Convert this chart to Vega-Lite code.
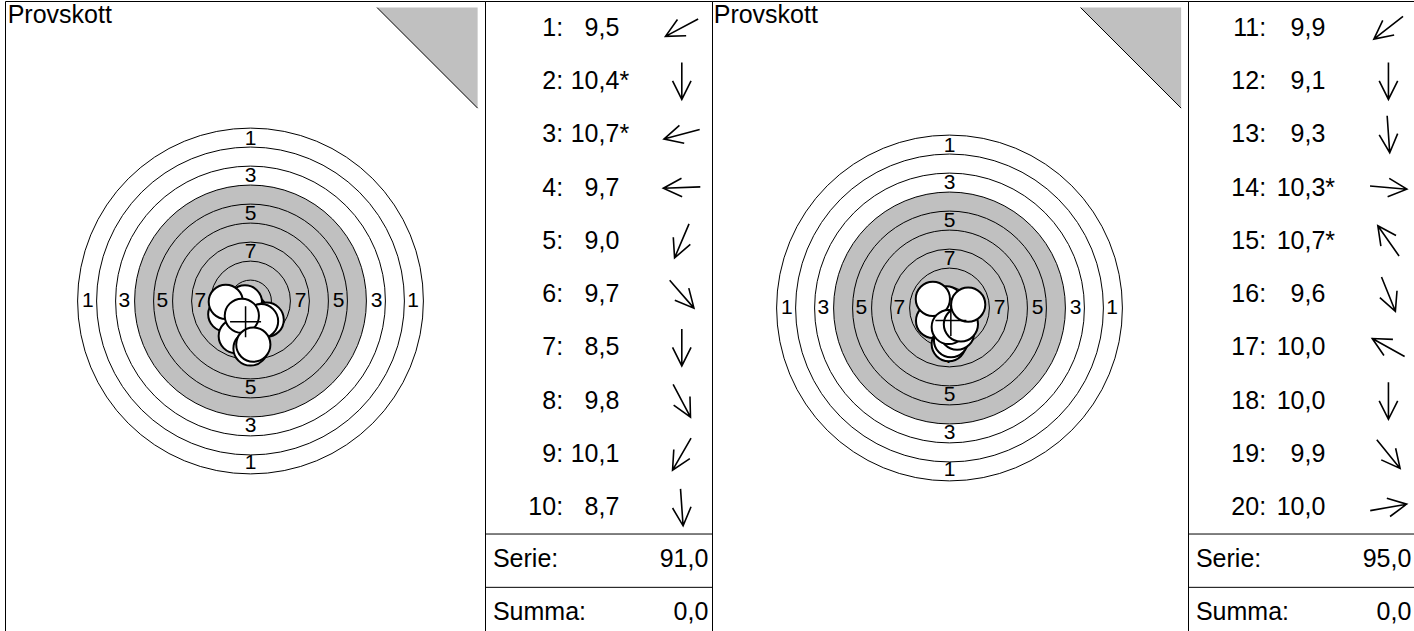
{
  "$schema": "https://vega.github.io/schema/vega-lite/v6.json",
  "padding": {"left": 4, "top": 0, "right": 0, "bottom": 0},
  "spacing": 0,
  "bounds": "flush",
  "background": "white",
  "config": {
    "view": {"stroke": "black", "strokeWidth": 1},
    "text": {"font": "Liberation Sans"},
    "concat": {"spacing": 0}
  },
  "datasets": {
    "rings": [
      {"ring": 1, "r": 22.75, "zone": "white"},
      {"ring": 2, "r": 20.25, "zone": "white"},
      {"ring": 3, "r": 17.75, "zone": "white"},
      {"ring": 4, "r": 15.25, "zone": "black"},
      {"ring": 5, "r": 12.75, "zone": "black"},
      {"ring": 6, "r": 10.25, "zone": "black"},
      {"ring": 7, "r": 7.75, "zone": "black"},
      {"ring": 8, "r": 5.25, "zone": "black"},
      {"ring": 9, "r": 2.75, "zone": "black"},
      {"ring": 10, "r": 0.25, "zone": "black"}
    ],
    "ringLabels": [
      {"label": "1", "x": -21.4, "y": 0}, {"label": "1", "x": 21.4, "y": 0}, {"label": "1", "x": 0, "y": 21.3}, {"label": "1", "x": 0, "y": -21.3},
      {"label": "3", "x": -16.6, "y": 0}, {"label": "3", "x": 16.6, "y": 0}, {"label": "3", "x": 0, "y": 16.4}, {"label": "3", "x": 0, "y": -16.4},
      {"label": "5", "x": -11.6, "y": 0}, {"label": "5", "x": 11.6, "y": 0}, {"label": "5", "x": 0, "y": 11.4}, {"label": "5", "x": 0, "y": -11.4},
      {"label": "7", "x": -6.6, "y": 0}, {"label": "7", "x": 6.6, "y": 0}, {"label": "7", "x": 0, "y": 6.4}, {"label": "7", "x": 0, "y": -6.4}
    ],
    "panel": [{"title": "Provskott"}],
    "seps": [{"row": 10.5}, {"row": 11.5}],
    "shotsA": [
      {"n": 1, "row": 1, "idx": "1:", "val": "9,5", "star": "", "x": -3.32, "y": -1.75, "dir": 152},
      {"n": 2, "row": 2, "idx": "2:", "val": "10,4", "star": "*", "x": 0, "y": -1.5, "dir": 90},
      {"n": 3, "row": 3, "idx": "3:", "val": "10,7", "star": "*", "x": -0.73, "y": -0.19, "dir": 165},
      {"n": 4, "row": 4, "idx": "4:", "val": "9,7", "star": "", "x": -3.25, "y": -0.11, "dir": 178},
      {"n": 5, "row": 5, "idx": "5:", "val": "9,0", "star": "", "x": -1.94, "y": -4.61, "dir": 113},
      {"n": 6, "row": 6, "idx": "6:", "val": "9,7", "star": "", "x": 2.13, "y": -2.46, "dir": 49},
      {"n": 7, "row": 7, "idx": "7:", "val": "8,5", "star": "", "x": 0, "y": -6.25, "dir": 90},
      {"n": 8, "row": 8, "idx": "8:", "val": "9,8", "star": "", "x": 1.39, "y": -2.66, "dir": 62},
      {"n": 9, "row": 9, "idx": "9:", "val": "10,1", "star": "", "x": -1.14, "y": -1.94, "dir": 120},
      {"n": 10, "row": 10, "idx": "10:", "val": "8,7", "star": "", "x": 0.37, "y": -5.74, "dir": 86}
    ],
    "shotsB": [
      {"n": 11, "row": 1, "idx": "11:", "val": "9,9", "star": "", "x": -2.16, "y": -1.7, "dir": 142},
      {"n": 12, "row": 2, "idx": "12:", "val": "9,1", "star": "", "x": -0.1, "y": -4.75, "dir": 90},
      {"n": 13, "row": 3, "idx": "13:", "val": "9,3", "star": "", "x": 0.2, "y": -4.24, "dir": 86},
      {"n": 14, "row": 4, "idx": "14:", "val": "10,3", "star": "*", "x": 1.6, "y": -0.16, "dir": 5},
      {"n": 15, "row": 5, "idx": "15:", "val": "10,7", "star": "*", "x": -0.43, "y": 0.62, "dir": 235},
      {"n": 16, "row": 6, "idx": "16:", "val": "9,6", "star": "", "x": 1.0, "y": -3.25, "dir": 68},
      {"n": 17, "row": 7, "idx": "17:", "val": "10,0", "star": "", "x": -2.19, "y": 1.2, "dir": 209},
      {"n": 18, "row": 8, "idx": "18:", "val": "10,0", "star": "", "x": -0.1, "y": -2.5, "dir": 90},
      {"n": 19, "row": 9, "idx": "19:", "val": "9,9", "star": "", "x": 1.5, "y": -2.15, "dir": 51},
      {"n": 20, "row": 10, "idx": "20:", "val": "10,0", "star": "", "x": 2.46, "y": 0.45, "dir": 350}
    ],
    "sumA": [{"row": 11, "label": "Serie:", "val": "91,0"}, {"row": 12, "label": "Summa:", "val": "0,0"}],
    "sumB": [{"row": 11, "label": "Serie:", "val": "95,0"}, {"row": 12, "label": "Summa:", "val": "0,0"}]
  },
  "hconcat": [
    {
      "width": 480, "height": 631,
      "layer": [
        {
          "data": {"name": "rings"},
          "mark": {"type": "point", "shape": "circle", "filled": true, "stroke": "black", "strokeWidth": 1, "opacity": 1},
          "encoding": {
            "x": {"datum": 0, "type": "quantitative", "scale": {"domain": [-32.303, 30.855], "nice": false, "zero": false}, "axis": null},
            "y": {"datum": 0, "type": "quantitative", "scale": {"domain": [-43.553, 39.474], "nice": false, "zero": false}, "axis": null},
            "size": {"field": "r", "type": "quantitative", "scale": {"type": "pow", "exponent": 2, "domain": [0, 22.75], "range": [0, 119578]}, "legend": null},
            "fill": {"field": "zone", "type": "nominal", "scale": {"domain": ["white", "black"], "range": ["#ffffff", "#c0c0c0"]}, "legend": null},
            "order": {"field": "ring", "sort": "ascending"}
          }
        },
        {
          "data": {"name": "ringLabels"},
          "mark": {"type": "text", "fontSize": 21, "align": "center", "baseline": "middle", "color": "black"},
          "encoding": {
            "x": {"field": "x", "type": "quantitative"},
            "y": {"field": "y", "type": "quantitative"},
            "text": {"field": "label"}
          }
        },
        {
          "data": {"name": "shotsA"},
          "mark": {"type": "point", "shape": "circle", "filled": true, "fill": "white", "stroke": "black", "strokeWidth": 2, "size": 1170, "opacity": 1},
          "encoding": {
            "x": {"field": "x", "type": "quantitative"},
            "y": {"field": "y", "type": "quantitative"},
            "order": {"field": "n", "sort": "ascending"}
          }
        },
        {
          "data": {"name": "shotsA"},
          "transform": [{"aggregate": [{"op": "mean", "field": "x", "as": "mx"}, {"op": "mean", "field": "y", "as": "my"}]}],
          "mark": {"type": "point", "shape": "M-1,0L1,0M0,-1L0,1", "filled": false, "stroke": "black", "strokeWidth": 1.5, "size": 961, "opacity": 1},
          "encoding": {
            "x": {"field": "mx", "type": "quantitative"},
            "y": {"field": "my", "type": "quantitative"}
          }
        },
        {
          "data": {"name": "panel"},
          "mark": {"type": "point", "shape": "M-1,-1L1,-1L1,1Z", "filled": true, "fill": "#c0c0c0", "strokeWidth": 0, "size": 10120, "opacity": 1},
          "encoding": {"x": {"datum": 23.27, "type": "quantitative"}, "y": {"datum": 31.99, "type": "quantitative"}}
        },
        {
          "data": {"name": "panel"},
          "mark": {"type": "point", "shape": "M-1,-1L1,1", "filled": false, "stroke": "black", "strokeWidth": 1, "size": 10120, "opacity": 1},
          "encoding": {"x": {"datum": 23.27, "type": "quantitative"}, "y": {"datum": 31.99, "type": "quantitative"}}
        },
        {
          "data": {"name": "panel"},
          "mark": {"type": "text", "fontSize": 25, "align": "left", "baseline": "alphabetic", "color": "black"},
          "encoding": {"x": {"datum": -31.95, "type": "quantitative"}, "y": {"datum": 36.579, "type": "quantitative"}, "text": {"field": "title"}}
        }
      ]
    },
    {
      "width": 227, "height": 631,
      "layer": [
        {
          "data": {"name": "seps"},
          "mark": {"type": "rule", "stroke": "black", "strokeWidth": 1},
          "encoding": {"y": {"field": "row", "type": "quantitative", "scale": {"domain": [0.5, 12.338], "reverse": true, "nice": false, "zero": false}, "axis": null}}
        },
        {
          "data": {"name": "shotsA"},
          "mark": {"type": "text", "fontSize": 25, "align": "right", "baseline": "middle", "color": "black"},
          "encoding": {
            "x": {"datum": 34.4, "type": "quantitative", "scale": {"domain": [0, 100], "nice": false, "zero": false}, "axis": null},
            "y": {"field": "row", "type": "quantitative"},
            "text": {"field": "idx"}
          }
        },
        {
          "data": {"name": "shotsA"},
          "mark": {"type": "text", "fontSize": 25, "align": "right", "baseline": "middle", "color": "black"},
          "encoding": {"x": {"datum": 59.2, "type": "quantitative"}, "y": {"field": "row", "type": "quantitative"}, "text": {"field": "val"}}
        },
        {
          "data": {"name": "shotsA"},
          "mark": {"type": "text", "fontSize": 25, "align": "left", "baseline": "middle", "color": "black"},
          "encoding": {"x": {"datum": 59.2, "type": "quantitative"}, "y": {"field": "row", "type": "quantitative"}, "text": {"field": "star"}}
        },
        {
          "data": {"name": "shotsA"},
          "mark": {"type": "point", "shape": "M-1,0L1,0M0,-0.5L1,0L0,0.5", "filled": false, "stroke": "black", "strokeWidth": 1.6, "size": 1369, "opacity": 1},
          "encoding": {
            "x": {"datum": 86.7, "type": "quantitative"},
            "y": {"field": "row", "type": "quantitative"},
            "angle": {"field": "dir", "type": "quantitative", "scale": {"domain": [0, 360], "range": [0, 360]}, "legend": null}
          }
        },
        {
          "data": {"name": "sumA"},
          "mark": {"type": "text", "fontSize": 25, "align": "left", "baseline": "middle", "dy": -2, "color": "black"},
          "encoding": {"x": {"datum": 3.5, "type": "quantitative"}, "y": {"field": "row", "type": "quantitative"}, "text": {"field": "label"}}
        },
        {
          "data": {"name": "sumA"},
          "mark": {"type": "text", "fontSize": 25, "align": "right", "baseline": "middle", "dy": -2, "color": "black"},
          "encoding": {"x": {"datum": 98.4, "type": "quantitative"}, "y": {"field": "row", "type": "quantitative"}, "text": {"field": "val"}}
        }
      ]
    },
    {
      "width": 476, "height": 631,
      "layer": [
        {
          "data": {"name": "rings"},
          "mark": {"type": "point", "shape": "circle", "filled": true, "stroke": "black", "strokeWidth": 1, "opacity": 1},
          "encoding": {
            "x": {"datum": 0, "type": "quantitative", "scale": {"domain": [-31.25, 31.382], "nice": false, "zero": false}, "axis": null},
            "y": {"datum": 0, "type": "quantitative", "scale": {"domain": [-42.632, 40.395], "nice": false, "zero": false}, "axis": null},
            "size": {"field": "r", "type": "quantitative", "scale": {"type": "pow", "exponent": 2, "domain": [0, 22.75], "range": [0, 119578]}, "legend": null},
            "fill": {"field": "zone", "type": "nominal", "scale": {"domain": ["white", "black"], "range": ["#ffffff", "#c0c0c0"]}, "legend": null},
            "order": {"field": "ring", "sort": "ascending"}
          }
        },
        {
          "data": {"name": "ringLabels"},
          "mark": {"type": "text", "fontSize": 21, "align": "center", "baseline": "middle", "color": "black"},
          "encoding": {
            "x": {"field": "x", "type": "quantitative"},
            "y": {"field": "y", "type": "quantitative"},
            "text": {"field": "label"}
          }
        },
        {
          "data": {"name": "shotsB"},
          "mark": {"type": "point", "shape": "circle", "filled": true, "fill": "white", "stroke": "black", "strokeWidth": 2, "size": 1170, "opacity": 1},
          "encoding": {
            "x": {"field": "x", "type": "quantitative"},
            "y": {"field": "y", "type": "quantitative"},
            "order": {"field": "n", "sort": "ascending"}
          }
        },
        {
          "data": {"name": "shotsB"},
          "transform": [{"aggregate": [{"op": "mean", "field": "x", "as": "mx"}, {"op": "mean", "field": "y", "as": "my"}]}],
          "mark": {"type": "point", "shape": "M-1,0L1,0M0,-1L0,1", "filled": false, "stroke": "black", "strokeWidth": 1.5, "size": 961, "opacity": 1},
          "encoding": {
            "x": {"field": "mx", "type": "quantitative"},
            "y": {"field": "my", "type": "quantitative"}
          }
        },
        {
          "data": {"name": "panel"},
          "mark": {"type": "point", "shape": "M-1,-1L1,-1L1,1Z", "filled": true, "fill": "#c0c0c0", "strokeWidth": 0, "size": 10120, "opacity": 1},
          "encoding": {"x": {"datum": 23.86, "type": "quantitative"}, "y": {"datum": 32.915, "type": "quantitative"}}
        },
        {
          "data": {"name": "panel"},
          "mark": {"type": "point", "shape": "M-1,-1L1,1", "filled": false, "stroke": "black", "strokeWidth": 1, "size": 10120, "opacity": 1},
          "encoding": {"x": {"datum": 23.86, "type": "quantitative"}, "y": {"datum": 32.915, "type": "quantitative"}}
        },
        {
          "data": {"name": "panel"},
          "mark": {"type": "text", "fontSize": 25, "align": "left", "baseline": "alphabetic", "color": "black"},
          "encoding": {"x": {"datum": -31.026, "type": "quantitative"}, "y": {"datum": 37.5, "type": "quantitative"}, "text": {"field": "title"}}
        }
      ]
    },
    {
      "width": 227, "height": 631,
      "layer": [
        {
          "data": {"name": "seps"},
          "mark": {"type": "rule", "stroke": "black", "strokeWidth": 1},
          "encoding": {"y": {"field": "row", "type": "quantitative", "scale": {"domain": [0.5, 12.338], "reverse": true, "nice": false, "zero": false}, "axis": null}}
        },
        {
          "data": {"name": "shotsB"},
          "mark": {"type": "text", "fontSize": 25, "align": "right", "baseline": "middle", "color": "black"},
          "encoding": {
            "x": {"datum": 34.4, "type": "quantitative", "scale": {"domain": [0, 100], "nice": false, "zero": false}, "axis": null},
            "y": {"field": "row", "type": "quantitative"},
            "text": {"field": "idx"}
          }
        },
        {
          "data": {"name": "shotsB"},
          "mark": {"type": "text", "fontSize": 25, "align": "right", "baseline": "middle", "color": "black"},
          "encoding": {"x": {"datum": 60.5, "type": "quantitative"}, "y": {"field": "row", "type": "quantitative"}, "text": {"field": "val"}}
        },
        {
          "data": {"name": "shotsB"},
          "mark": {"type": "text", "fontSize": 25, "align": "left", "baseline": "middle", "color": "black"},
          "encoding": {"x": {"datum": 60.5, "type": "quantitative"}, "y": {"field": "row", "type": "quantitative"}, "text": {"field": "star"}}
        },
        {
          "data": {"name": "shotsB"},
          "mark": {"type": "point", "shape": "M-1,0L1,0M0,-0.5L1,0L0,0.5", "filled": false, "stroke": "black", "strokeWidth": 1.6, "size": 1369, "opacity": 1},
          "encoding": {
            "x": {"datum": 88.3, "type": "quantitative"},
            "y": {"field": "row", "type": "quantitative"},
            "angle": {"field": "dir", "type": "quantitative", "scale": {"domain": [0, 360], "range": [0, 360]}, "legend": null}
          }
        },
        {
          "data": {"name": "sumB"},
          "mark": {"type": "text", "fontSize": 25, "align": "left", "baseline": "middle", "dy": -2, "color": "black"},
          "encoding": {"x": {"datum": 3.5, "type": "quantitative"}, "y": {"field": "row", "type": "quantitative"}, "text": {"field": "label"}}
        },
        {
          "data": {"name": "sumB"},
          "mark": {"type": "text", "fontSize": 25, "align": "right", "baseline": "middle", "dy": -2, "color": "black"},
          "encoding": {"x": {"datum": 98.4, "type": "quantitative"}, "y": {"field": "row", "type": "quantitative"}, "text": {"field": "val"}}
        }
      ]
    }
  ]
}
